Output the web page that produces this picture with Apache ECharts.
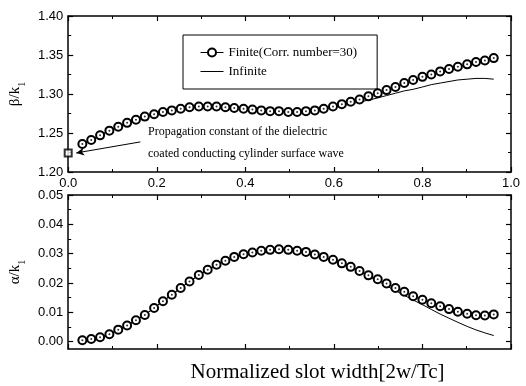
<!DOCTYPE html>
<html><head><meta charset="utf-8">
<script src="https://cdn.jsdelivr.net/npm/echarts@6/dist/echarts.min.js"></script>
<style>html,body{margin:0;padding:0;background:#fff}#c{width:526px;height:386px}</style>
</head><body><div id="c"></div>
<script>
// ---- data ----
const slotWidth = [0.032,0.052,0.072,0.093,0.113,0.133,0.153,0.173,0.194,0.214,0.234,0.254,0.274,0.295,0.315,0.335,0.355,0.375,0.396,0.416,0.436,0.456,0.476,0.497,0.517,0.537,0.557,0.577,0.598,0.618,0.638,0.658,0.678,0.699,0.719,0.739,0.759,0.779,0.800,0.820,0.840,0.860,0.880,0.901,0.921,0.941,0.961];
const betaFinite = [1.236,1.241,1.247,1.253,1.258,1.263,1.267,1.271,1.274,1.277,1.279,1.281,1.283,1.284,1.284,1.284,1.283,1.282,1.281,1.280,1.279,1.278,1.278,1.277,1.277,1.278,1.279,1.281,1.284,1.287,1.290,1.293,1.297,1.301,1.305,1.309,1.314,1.318,1.322,1.325,1.329,1.332,1.335,1.338,1.341,1.343,1.346];
const betaInfinite = [1.236,1.241,1.247,1.253,1.258,1.263,1.267,1.271,1.274,1.277,1.279,1.281,1.283,1.284,1.284,1.284,1.283,1.282,1.281,1.280,1.279,1.278,1.278,1.277,1.277,1.278,1.279,1.281,1.283,1.285,1.287,1.290,1.292,1.295,1.298,1.301,1.304,1.306,1.309,1.312,1.314,1.316,1.318,1.319,1.320,1.320,1.319];
const alphaFinite = [0.0005,0.0009,0.0015,0.0025,0.0041,0.0055,0.0073,0.0091,0.0115,0.0138,0.0160,0.0183,0.0205,0.0227,0.0245,0.0262,0.0276,0.0289,0.0298,0.0304,0.0310,0.0313,0.0315,0.0313,0.0310,0.0306,0.0297,0.0289,0.0279,0.0267,0.0255,0.0241,0.0226,0.0213,0.0198,0.0183,0.0170,0.0155,0.0143,0.0131,0.0121,0.0111,0.0102,0.0095,0.0090,0.0089,0.0093];
const alphaInfinite = [0.0005,0.0009,0.0015,0.0025,0.0041,0.0055,0.0073,0.0091,0.0115,0.0138,0.0160,0.0183,0.0205,0.0227,0.0245,0.0262,0.0276,0.0289,0.0298,0.0304,0.0310,0.0313,0.0315,0.0313,0.0310,0.0306,0.0297,0.0289,0.0279,0.0267,0.0255,0.0241,0.0223,0.0207,0.0190,0.0174,0.0158,0.0142,0.0126,0.0110,0.0094,0.0080,0.0066,0.0052,0.0040,0.0030,0.0021];
const surfaceWaveX = [0];
const surfaceWaveY = [1.2244];
const alphaTicks = [0.00,0.01,0.02,0.03,0.04,0.05];
const alphaMinorTicks = [0.005,0.015,0.025,0.035,0.045];
const seriesNames = ['Finite(Corr. number=30)','Infinite'];
const annotation = ['Propagation constant of the dielectric','coated conducting cylinder surface wave'];
const xName = 'Normalized slot width[2w/Tc]';

const pair = (xs, ys) => xs.map((x, i) => [x, ys[i]]);
const SANS = "'Liberation Sans', Arial, Helvetica, sans-serif";
const SERIF = "'Liberation Serif', 'Times New Roman', serif";
const BLACK = '#000';
const lineAx = {show: true, onZero: false, lineStyle: {color: BLACK, width: 1.5}};

function xAx(grid, pos, showLabel, extra) {
  return Object.assign({
    type: 'value', gridIndex: grid, position: pos, min: 0, max: 1, interval: 0.2,
    axisLine: lineAx,
    axisTick: {show: true, inside: true, length: 5, lineStyle: {color: BLACK, width: 1.2}},
    minorTick: {show: true, splitNumber: 2, length: 3, lineStyle: {color: BLACK, width: 1}},
    splitLine: {show: false}, minorSplitLine: {show: false},
    axisLabel: {show: showLabel, margin: 5, fontSize: 13, fontFamily: SANS, color: BLACK,
      formatter: v => v.toFixed(1)}
  }, extra || {});
}
function yTop(pos, showLabel, extra) {
  return Object.assign({
    type: 'value', gridIndex: 0, position: pos, min: 1.2, max: 1.4, interval: 0.05,
    axisLine: lineAx,
    axisTick: {show: true, inside: true, length: 5, lineStyle: {color: BLACK, width: 1.2}},
    minorTick: {show: true, splitNumber: 2, length: 3, lineStyle: {color: BLACK, width: 1}},
    splitLine: {show: false}, minorSplitLine: {show: false},
    axisLabel: {show: showLabel, margin: 5, fontSize: 13, fontFamily: SANS, color: BLACK,
      formatter: v => v.toFixed(2)}
  }, extra || {});
}
function yBot(pos, showLabel, minor, extra) {
  return Object.assign({
    type: 'value', gridIndex: 1, position: pos, min: -0.0025, max: 0.05,
    axisLine: minor ? {show: false, onZero: false} : lineAx,
    axisTick: {show: true, inside: true, length: minor ? 3 : 5,
      customValues: minor ? alphaMinorTicks : alphaTicks,
      lineStyle: {color: BLACK, width: minor ? 1 : 1.2}},
    minorTick: {show: false},
    splitLine: {show: false},
    axisLabel: {show: showLabel, margin: 5, fontSize: 13, fontFamily: SANS, color: BLACK,
      customValues: alphaTicks, formatter: v => v.toFixed(2)}
  }, extra || {});
}

const nameRich = {
  b: {fontSize: 15, fontFamily: SERIF, color: BLACK, padding: [0, 0, 4, 0], verticalAlign: 'bottom'},
  s: {fontSize: 10, fontFamily: SERIF, color: BLACK, verticalAlign: 'bottom'}
};

const option = {
  animation: false,
  backgroundColor: '#fff',
  grid: [
    {left: 63, top: 16, width: 448, height: 156},
    {left: 63, top: 195, width: 448, height: 154}
  ],
  xAxis: [
    xAx(0, 'bottom', true),
    xAx(0, 'top', false),
    xAx(1, 'bottom', false, {name: xName, nameLocation: 'middle', nameGap: 13,
      nameTextStyle: {fontFamily: SERIF, fontSize: 21, color: BLACK, padding: [0, 0, 0, 56]}}),
    xAx(1, 'top', false)
  ],
  yAxis: [
    yTop('left', true, {name: '{b|β/k}{s|1}', nameLocation: 'middle', nameGap: 33, nameRotate: 90,
      nameTextStyle: {rich: nameRich}}),
    yTop('right', false),
    yBot('left', true, false, {name: '{b|α/k}{s|1}', nameLocation: 'middle', nameGap: 33, nameRotate: 90,
      nameTextStyle: {rich: nameRich}}),
    yBot('right', false, false),
    yBot('left', false, true),
    yBot('right', false, true)
  ],
  legend: {
    data: [
      {name: seriesNames[0], lineStyle: {color: BLACK, width: 1}},
      {name: seriesNames[1], itemStyle: {color: 'rgba(0,0,0,0)', borderColor: 'rgba(0,0,0,0)', borderWidth: 0, opacity: 0},
        lineStyle: {color: BLACK, width: 1, opacity: 1}}
    ],
    orient: 'vertical', left: 183, top: 35,
    padding: [11, 20, 11, 17], itemGap: 6, itemWidth: 23, itemHeight: 10, itemTextGap: 7,
    borderColor: BLACK, borderWidth: 1, selectedMode: false,
    textStyle: {fontFamily: SERIF, fontSize: 13, color: BLACK}
  },
  graphic: [
    {type: 'text', left: 148, top: 126, silent: true,
      style: {text: annotation[0], font: "12px 'Liberation Serif', serif", fill: BLACK}},
    {type: 'text', left: 148, top: 148, silent: true,
      style: {text: annotation[1], font: "12px 'Liberation Serif', serif", fill: BLACK}}
  ],
  series: [
    {name: seriesNames[1], type: 'line', xAxisIndex: 0, yAxisIndex: 0, data: pair(slotWidth, betaInfinite),
      symbol: 'none', lineStyle: {color: BLACK, width: 1}, itemStyle: {color: BLACK}, z: 2},
    {name: seriesNames[0], type: 'line', xAxisIndex: 0, yAxisIndex: 0, data: pair(slotWidth, betaFinite),
      symbol: 'emptyCircle', symbolSize: 8, showAllSymbol: true,
      lineStyle: {color: BLACK, width: 1}, itemStyle: {color: BLACK, borderWidth: 1.3}, z: 3},
    {type: 'scatter', xAxisIndex: 0, yAxisIndex: 0, data: pair(slotWidth, betaFinite),
      symbol: 'circle', symbolSize: 2, itemStyle: {color: BLACK}, silent: true, z: 4},
    {type: 'scatter', xAxisIndex: 0, yAxisIndex: 0, data: pair(surfaceWaveX, surfaceWaveY),
      symbol: 'emptyRect', symbolSize: 7, clip: false, itemStyle: {color: BLACK, borderWidth: 1.3}, silent: true, z: 5,
      markLine: {silent: true, symbol: ['none', 'arrow'], symbolSize: [6, 8], animation: false,
        lineStyle: {color: BLACK, width: 1, type: 'solid'}, label: {show: false},
        data: [[{coord: [0.163, 1.2386]}, {coord: [0.018, 1.2244]}]]}},
    {name: seriesNames[1], type: 'line', xAxisIndex: 2, yAxisIndex: 2, data: pair(slotWidth, alphaInfinite),
      symbol: 'none', lineStyle: {color: BLACK, width: 1}, itemStyle: {color: BLACK}, z: 2},
    {name: seriesNames[0], type: 'line', xAxisIndex: 2, yAxisIndex: 2, data: pair(slotWidth, alphaFinite),
      symbol: 'emptyCircle', symbolSize: 8, showAllSymbol: true,
      lineStyle: {color: BLACK, width: 1}, itemStyle: {color: BLACK, borderWidth: 1.3}, z: 3},
    {type: 'scatter', xAxisIndex: 2, yAxisIndex: 2, data: pair(slotWidth, alphaFinite),
      symbol: 'circle', symbolSize: 2, itemStyle: {color: BLACK}, silent: true, z: 4}
  ]
};
const chart = echarts.init(document.getElementById('c'), null, {renderer: 'canvas'});
chart.setOption(option);
</script></body></html>
